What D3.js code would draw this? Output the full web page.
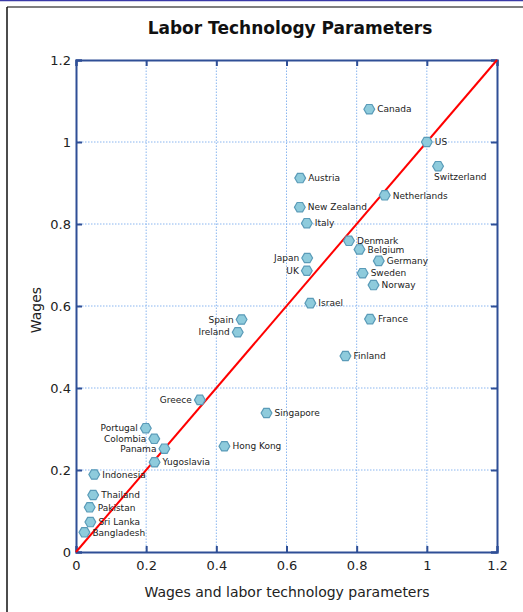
<!DOCTYPE html>
<html>
<head>
<meta charset="utf-8">
<script src="https://cdn.jsdelivr.net/npm/d3@7"></script>
<style>
  html, body { margin: 0; padding: 0; background: #fff; }
  svg { display: block; }
  text { font-family: "DejaVu Sans", Verdana, sans-serif; }
</style>
</head>
<body>
<svg id="chart" width="523" height="612"></svg>
<script>
const title = "Labor Technology Parameters";
const xTitle = "Wages and labor technology parameters";
const yTitle = "Wages";
const countries = ["Canada","US","Switzerland","Austria","Netherlands","New Zealand","Italy",
  "Denmark","Belgium","Germany","Sweden","Norway","Japan","UK","Israel","Spain","Ireland",
  "France","Finland","Greece","Singapore","Portugal","Colombia","Panama","Hong Kong",
  "Yugoslavia","Indonesia","Thailand","Pakistan","Sri Lanka","Bangladesh"];
const xValues = [0.836,1.0,1.032,0.639,0.88,0.638,0.658,
  0.778,0.808,0.863,0.817,0.848,0.659,0.658,0.668,0.472,0.461,
  0.838,0.768,0.353,0.543,0.199,0.223,0.252,0.423,
  0.224,0.052,0.049,0.039,0.041,0.024];
const yValues = [1.08,1.0,0.941,0.912,0.87,0.841,0.802,
  0.759,0.738,0.710,0.680,0.651,0.717,0.686,0.607,0.567,0.536,
  0.568,0.478,0.371,0.339,0.302,0.276,0.252,0.258,
  0.219,0.189,0.139,0.109,0.073,0.048];
const labelSide = ["r","r","b","r","r","r","r",
  "r","r","r","r","r","l","l","r","l","l",
  "r","r","l","r","l","l","l","r",
  "r","r","r","r","r","r"];
const xTicks = [0,0.2,0.4,0.6,0.8,1,1.2];
const yTicks = [0,0.2,0.4,0.6,0.8,1,1.2];
const diagonal = [0,1.2];

const svg = d3.select("#chart");
const W = 523, H = 612;
const x = d3.scaleLinear().domain([0,1.2]).range([76, 497]);
const y = d3.scaleLinear().domain([0,1.2]).range([552, 60]);

// outer frame
svg.append("line").attr("x1",0).attr("x2",W).attr("y1",0.5).attr("y2",0.5).attr("stroke","#3a3aa8").attr("stroke-width",1.5);
svg.append("line").attr("x1",7).attr("x2",W).attr("y1",7).attr("y2",7).attr("stroke","#555").attr("stroke-width",1.5);
svg.append("line").attr("x1",7).attr("x2",7).attr("y1",7).attr("y2",H).attr("stroke","#111").attr("stroke-width",1.5);

// title
svg.append("text").attr("x",290).attr("y",34).attr("text-anchor","middle")
  .style("font-size","17px").style("font-weight","bold").attr("fill","#111").text(title);

// grid
const grid = svg.append("g");
grid.selectAll(".gx").data(xTicks.slice(1,-1)).join("line")
  .attr("x1",d=>x(d)).attr("x2",d=>x(d)).attr("y1",y(0)).attr("y2",y(1.2))
  .attr("stroke","#8ab6f0").attr("stroke-width",1).attr("stroke-dasharray","1.5,1.5");
grid.selectAll(".gy").data(yTicks.slice(1,-1)).join("line")
  .attr("x1",x(0)).attr("x2",x(1.2)).attr("y1",d=>y(d)).attr("y2",d=>y(d))
  .attr("stroke","#8ab6f0").attr("stroke-width",1).attr("stroke-dasharray","1.5,1.5");

const axisColor = "#2f4f96";
const fmt = d => d3.format("~g")(d);
// axes with inward ticks
const gx = svg.append("g").attr("transform",`translate(0,${y(0)})`)
  .call(d3.axisBottom(x).tickValues(xTicks).tickFormat(fmt).tickSize(-6).tickPadding(9));
const gxt = svg.append("g").attr("transform",`translate(0,${y(1.2)})`)
  .call(d3.axisTop(x).tickValues(xTicks).tickFormat("").tickSize(-6));
const gy = svg.append("g").attr("transform",`translate(${x(0)},0)`)
  .call(d3.axisLeft(y).tickValues(yTicks).tickFormat(fmt).tickSize(-6).tickPadding(5));
const gyr = svg.append("g").attr("transform",`translate(${x(1.2)},0)`)
  .call(d3.axisRight(y).tickValues(yTicks).tickFormat("").tickSize(-6));
[gx,gxt,gy,gyr].forEach(g=>{
  g.select(".domain").attr("stroke",axisColor).attr("stroke-width",2);
  g.selectAll(".tick line").attr("stroke",axisColor).attr("stroke-width",2);
  g.selectAll(".tick text").attr("fill","#222").style("font-size","13px");
});

// diagonal
svg.append("line").attr("x1",x(diagonal[0])).attr("y1",y(diagonal[0]))
  .attr("x2",x(diagonal[1])).attr("y2",y(diagonal[1]))
  .attr("stroke","#ff0000").attr("stroke-width",2);

// axis titles
svg.append("text").attr("x",287).attr("y",597).attr("text-anchor","middle")
  .style("font-size","14px").attr("fill","#222").text(xTitle);
svg.append("text").attr("transform","translate(41,310) rotate(-90)").attr("text-anchor","middle")
  .style("font-size","14px").attr("fill","#222").text(yTitle);

// points
const hex = r => {
  const pts = d3.range(6).map(i => {
    const a = Math.PI/3*i;
    return [r*Math.cos(a), r*Math.sin(a)];
  });
  return "M" + pts.map(p=>p.join(",")).join("L") + "Z";
};
const data = countries.map((c,i)=>({name:c, x:xValues[i], y:yValues[i], side:labelSide[i]}));
const pts = svg.append("g").selectAll("g").data(data).join("g")
  .attr("transform", d=>`translate(${x(d.x)},${y(d.y)})`);
pts.append("path").attr("d", hex(5.4)).attr("fill","#8ecbdc").attr("stroke","#5a9bb8").attr("stroke-width",1.2);
pts.append("text")
  .attr("x", d => d.side==="r" ? 8 : d.side==="l" ? -8 : -4)
  .attr("y", d => d.side==="b" ? 14 : 3.2)
  .attr("text-anchor", d => d.side==="l" ? "end" : "start")
  .style("font-size","9px").attr("fill","#222").text(d=>d.name);
</script>
</body>
</html>
